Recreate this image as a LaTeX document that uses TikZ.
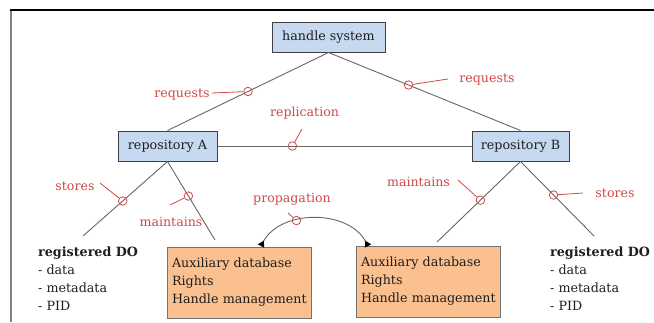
\documentclass[tikz,border=0pt]{standalone}
\usepackage{fontspec}
\setmainfont{DejaVu Serif}
\usetikzlibrary{arrows.meta}
\definecolor{boxblue}{HTML}{C6D9F1}
\definecolor{boxorange}{HTML}{FAC08F}
\definecolor{lblred}{HTML}{D04848}
\definecolor{linegray}{HTML}{666666}
\definecolor{txt}{HTML}{1E1E1E}
\tikzset{
  bluebox/.style={draw=black!75, line width=1pt, fill=boxblue, minimum height=30pt, inner sep=0pt, text=txt, font=\fontsize{12.7}{14}\selectfont},
  auxbox/.style={draw=black!55, line width=1pt, fill=boxorange, minimum height=71pt, text width=134pt, inner xsep=5pt, inner ysep=0pt, align=left, text=txt, font=\fontsize{12.7}{18}\selectfont},
  dolist/.style={align=left, inner sep=0pt, text=txt, font=\fontsize{12.7}{18}\selectfont},
  conn/.style={draw=linegray, line width=0.9pt},
  ring/.style={circle, draw=lblred, line width=0.8pt, minimum size=8.5pt, inner sep=0pt, fill=none},
  lbl/.style={text=lblred, inner sep=0pt, font=\fontsize{12.6}{14}\selectfont},
  lead/.style={draw=lblred, line width=0.8pt},
  revtri/.tip={Triangle[reversed,width=7pt,length=6pt,color=black]}
}
\begin{document}
\begin{tikzpicture}[x=1pt,y=-1pt]
\useasboundingbox (0,0) rectangle (654,322);
% frame
\draw[gray, line width=1.4pt] (11,322) -- (11,10);
\draw[black, line width=1.1pt] (10.3,10) -- (654,10);

% nodes
\node[bluebox, minimum width=113pt] (hs) at (328.5,37) {handle system};
\node[bluebox, minimum width=99pt] (repA) at (167.5,146) {repository A};
\node[bluebox, minimum width=97pt] (repB) at (520.5,146) {repository B};
\node[auxbox] (auxL) at (239,282.5) {\mbox{Auxiliary database}\\Rights\\\mbox{Handle management}};
\node[auxbox] (auxR) at (428,281.5) {\mbox{Auxiliary database}\\Rights\\\mbox{Handle management}};
\node[dolist, anchor=west] (doL) at (38,279) {\textbf{registered DO}\\- data\\- metadata\\- PID};
\node[dolist, anchor=west] (doR) at (550,279) {\textbf{registered DO}\\- data\\- metadata\\- PID};

\coordinate (sA) at (83,236);
\coordinate (mA) at (215,240);
\coordinate (mB) at (437,242);
\coordinate (sB) at (594,236);

% connectors with rings
\draw[conn] (hs.south) -- node[ring, pos=0.5] (r1) {} (repA.north);
\draw[conn] (hs.south) -- node[ring, pos=0.417] (r2) {} (repB.north);
\draw[conn] (repA.east) -- node[ring, pos=0.295] (r3) {} (repB.west);
\draw[conn] (repA.south) -- node[ring, pos=0.53] (r4) {} (sA);
\draw[conn] (repA.south) -- node[ring, pos=0.44] (r5) {} (mA);
\draw[conn] (repB.south) -- node[ring, pos=0.48] (r6) {} (mB);
\draw[conn] (repB.south) -- node[ring, pos=0.45] (r7) {} (sB);

\coordinate (pL) at (261,246);
\coordinate (pR) at (368,246);
\draw[conn, revtri-revtri]
  (pL) to[out=62, in=118] node[ring, pos=0.36] (r8) {} (pR);

% labels
\node[lbl] (t1) at (182,94.5) {requests};
\node[lbl] (t2) at (487,79.5) {requests};
\node[lbl] (t3) at (304.5,113.5) {replication};
\node[lbl] (t4) at (75,186.5) {stores};
\node[lbl] (t5) at (171,221.5) {maintains};
\node[lbl] (t6) at (292,199.5) {propagation};
\node[lbl] (t7) at (418.5,181.5) {maintains};
\node[lbl] (t8) at (615,193.5) {stores};

\coordinate (e1) at (212,93);
\coordinate (e2) at (448,79);
\coordinate (e3) at (302,129);
\coordinate (e4) at (100,183);
\coordinate (e5) at (170,205);
\coordinate (e6) at (288,213);
\coordinate (e7) at (458,180);
\coordinate (e8) at (583,193);
\draw[lead] (r1) -- (e1);
\draw[lead] (r2) -- (e2);
\draw[lead] (r3) -- (e3);
\draw[lead] (r4) -- (e4);
\draw[lead] (r5) -- (e5);
\draw[lead] (r8) -- (e6);
\draw[lead] (r6) -- (e7);
\draw[lead] (r7) -- (e8);
\end{tikzpicture}
\end{document}
